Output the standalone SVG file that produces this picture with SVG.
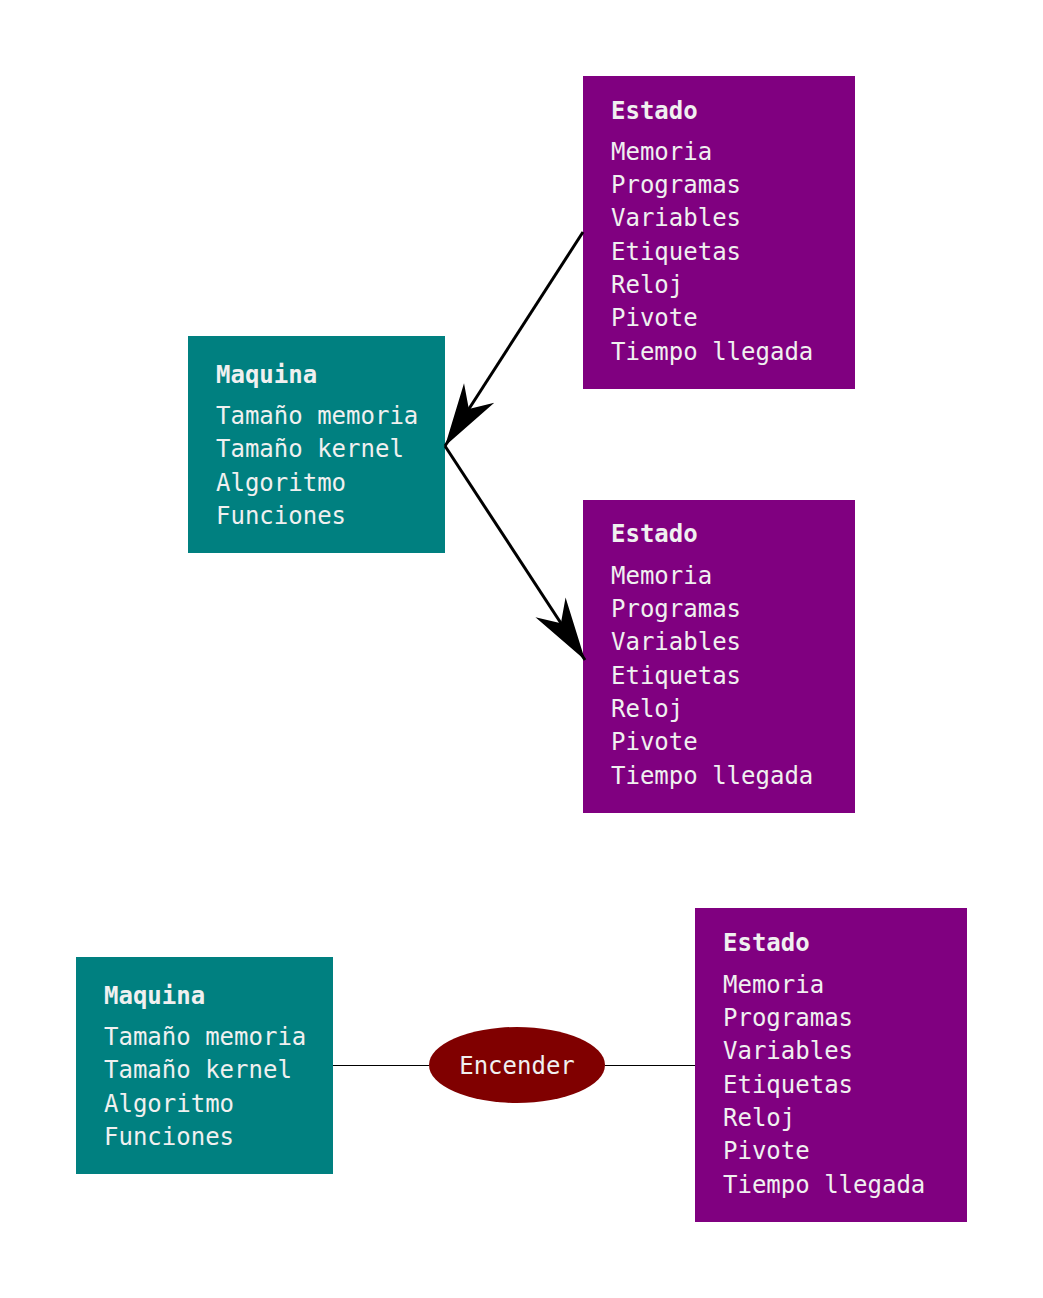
<svg xmlns="http://www.w3.org/2000/svg" width="1043" height="1298" viewBox="0 0 1043 1298">
<style>
.t{font-family:"DejaVu Sans Mono","Liberation Mono",monospace;font-size:24px;fill:#f0f0f0;}
.h{font-weight:bold;}
.m{fill:#008080;}
.e{fill:#800080;}
.edge{stroke:#000;stroke-width:3;fill:none;}
.thin{stroke:#000;stroke-width:1;fill:none;}
</style>
<defs>
<marker id="arr" markerUnits="userSpaceOnUse" orient="auto" refX="0" refY="0" markerWidth="80" markerHeight="40" viewBox="-70 -20 80 40" overflow="visible">
<path d="M0,0 L-63,-18 L-44,0 L-63,18 Z" fill="#000"/>
</marker>
</defs>
<rect width="1043" height="1298" fill="#fff"/>
<g id="estado1">
<rect class="e" x="583" y="76" width="272" height="313"/>
<text class="t h" x="611" y="119">Estado</text>
<text class="t" x="611" y="160">Memoria</text>
<text class="t" x="611" y="193">Programas</text>
<text class="t" x="611" y="226">Variables</text>
<text class="t" x="611" y="260">Etiquetas</text>
<text class="t" x="611" y="293">Reloj</text>
<text class="t" x="611" y="326">Pivote</text>
<text class="t" x="611" y="360">Tiempo llegada</text>
</g>
<g id="maquina1">
<rect class="m" x="188" y="336" width="257" height="217"/>
<text class="t h" x="216" y="383">Maquina</text>
<text class="t" x="216" y="424">Tamaño memoria</text>
<text class="t" x="216" y="457">Tamaño kernel</text>
<text class="t" x="216" y="491">Algoritmo</text>
<text class="t" x="216" y="524">Funciones</text>
</g>
<g id="estado2">
<rect class="e" x="583" y="500" width="272" height="313"/>
<text class="t h" x="611" y="542">Estado</text>
<text class="t" x="611" y="584">Memoria</text>
<text class="t" x="611" y="617">Programas</text>
<text class="t" x="611" y="650">Variables</text>
<text class="t" x="611" y="684">Etiquetas</text>
<text class="t" x="611" y="717">Reloj</text>
<text class="t" x="611" y="750">Pivote</text>
<text class="t" x="611" y="784">Tiempo llegada</text>
</g>
<g id="maquina2">
<rect class="m" x="76" y="957" width="257" height="217"/>
<text class="t h" x="104" y="1004">Maquina</text>
<text class="t" x="104" y="1045">Tamaño memoria</text>
<text class="t" x="104" y="1078">Tamaño kernel</text>
<text class="t" x="104" y="1112">Algoritmo</text>
<text class="t" x="104" y="1145">Funciones</text>
</g>
<g id="encender">
<ellipse cx="517" cy="1065" rx="88" ry="38" fill="#800000"/>
<text class="t" x="517" y="1074" text-anchor="middle">Encender</text>
</g>
<g id="estado3">
<rect class="e" x="695" y="908" width="272" height="314"/>
<text class="t h" x="723" y="951">Estado</text>
<text class="t" x="723" y="993">Memoria</text>
<text class="t" x="723" y="1026">Programas</text>
<text class="t" x="723" y="1059">Variables</text>
<text class="t" x="723" y="1093">Etiquetas</text>
<text class="t" x="723" y="1126">Reloj</text>
<text class="t" x="723" y="1159">Pivote</text>
<text class="t" x="723" y="1193">Tiempo llegada</text>
</g>
<g id="connectors">
<path class="edge" d="M583,232 L445,446" marker-end="url(#arr)"/>
<path class="edge" d="M445,446 L585,660" marker-end="url(#arr)"/>
<path class="thin" d="M333,1065.5 L429,1065.5"/>
<path class="thin" d="M605,1065.5 L695,1065.5"/>
</g>
</svg>
